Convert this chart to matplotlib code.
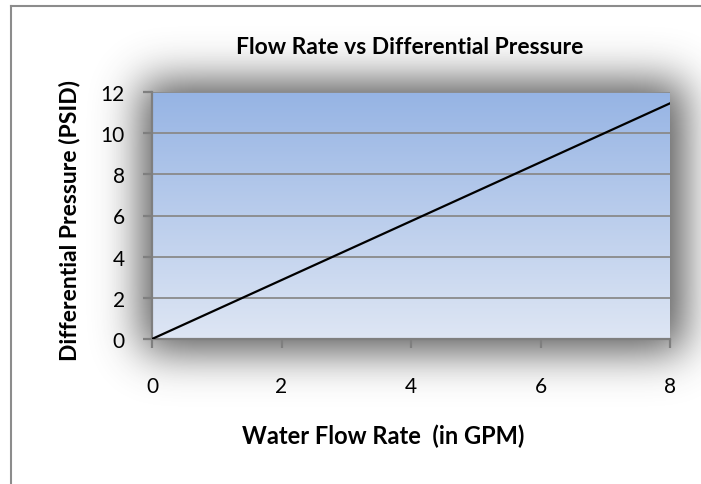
import numpy as np
import matplotlib
matplotlib.use("Agg")
import matplotlib.pyplot as plt
from matplotlib.lines import Line2D

# Data
flow_gpm = [0, 8]
pressure_psid = [0, 11.45]
x_ticks = [0, 2, 4, 6, 8]
y_ticks = [0, 2, 4, 6, 8, 10, 12]
title = "Flow Rate vs Differential Pressure"
xlabel = "Water Flow Rate  (in GPM)"
ylabel = "Differential Pressure (PSID)"

W, H, DPI = 701, 485, 100
plt.rcParams['font.family'] = ['Lato', 'DejaVu Sans']

fig = plt.figure(figsize=(W / DPI, H / DPI), dpi=DPI)
fig.patch.set_facecolor('white')

# plot-area pixel box
L, R, T, B = 152, 670, 93, 340

# soft shadow around plot area
def blur1d(a, sigma, axis):
    r = int(3 * sigma)
    k = np.exp(-0.5 * (np.arange(-r, r + 1) / sigma) ** 2)
    k /= k.sum()
    pad = [(0, 0), (0, 0)]
    pad[axis] = (r, r)
    ap = np.pad(a, pad, mode='constant')
    return np.apply_along_axis(lambda v: np.convolve(v, k, mode='valid'), axis, ap)

mask = np.zeros((H, W))
mask[T - 10:B + 12, L - 10:R + 14] = 1.0
mask = blur1d(blur1d(mask, 22, 0), 22, 1)
shadow = np.zeros((H, W, 4))
shadow[..., :3] = 0.25
shadow[..., 3] = np.clip(mask * 0.9, 0, 1)
fig.figimage(shadow, xo=0, yo=0, origin='upper', zorder=1)

# outer chart border
fig.add_artist(Line2D([11 / W, 11 / W], [0, 1 - 7 / H], transform=fig.transFigure,
                      color='#8c8c8c', lw=1.5, zorder=2))
fig.add_artist(Line2D([11 / W, 1], [1 - 7 / H, 1 - 7 / H], transform=fig.transFigure,
                      color='#8c8c8c', lw=1.5, zorder=2))

ax = fig.add_axes([L / W, 1 - B / H, (R - L) / W, (B - T) / H], zorder=3)
ax.patch.set_alpha(0)
ax.set_xlim(0, 8)
ax.set_ylim(0, 12)

# gradient background
top = np.array([150, 180, 228]) / 255
bot = np.array([222, 230, 244]) / 255
t = np.linspace(0, 1, 256)[:, None]
grad = (top * (1 - t) + bot * t)[:, None, :]
ax.imshow(grad, extent=[0, 8, 0, 12], aspect='auto', origin='upper', zorder=0)

for yv in y_ticks[1:]:
    ax.axhline(yv, color='#8a8a8a', lw=1.3, zorder=1)

ax.plot(flow_gpm, pressure_psid, color='black', lw=1.6, zorder=3)

for s in ['top', 'right']:
    ax.spines[s].set_visible(False)
for s in ['left', 'bottom']:
    ax.spines[s].set_color('#7f7f7f')
    ax.spines[s].set_linewidth(1.6)

ax.set_xticks(x_ticks)
ax.set_yticks(y_ticks)
ax.tick_params(axis='both', direction='out', color='#7f7f7f', width=1.6, length=6.5,
               labelsize=15, labelcolor='black')
ax.tick_params(axis='x', pad=20)
ax.tick_params(axis='y', pad=13)

fig.text(410 / W, 1 - 48 / H, title, ha='center', va='center', fontsize=16.5, fontweight='bold')
fig.text(383 / W, 1 - 436 / H, xlabel, ha='center', va='center', fontsize=17, fontweight='bold')
fig.text(70 / W, 1 - 221 / H, ylabel, ha='center', va='center', rotation=90,
         fontsize=16.5, fontweight='bold')

fig.savefig('out.png', dpi=DPI)
